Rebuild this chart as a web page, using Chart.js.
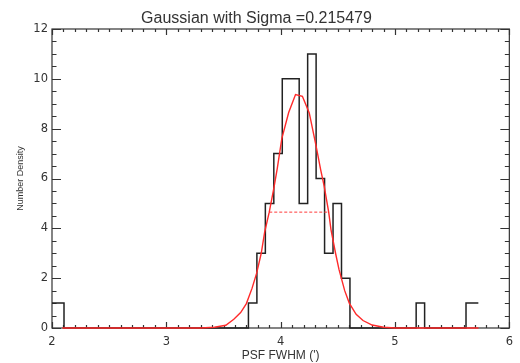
<!DOCTYPE html>
<html><head><meta charset="utf-8">
<script src="https://cdn.jsdelivr.net/npm/chart.js@4.4.0/dist/chart.umd.min.js"></script>
<style>html,body{margin:0;padding:0;background:#fff;}#wrap{width:520px;height:363px;}</style>
</head><body><div id="wrap"><canvas id="c" width="520" height="363"></canvas></div>
<script>
const titleText = 'Gaussian with Sigma =0.215479';
const xTitle = "PSF FWHM (')";
const yTitle = 'Number Density';
const xTickValues = [2, 3, 4, 5, 6];
const yTickValues = [0, 2, 4, 6, 8, 10, 12];
// histogram: counts[i] spans binEdges[i]..binEdges[i+1]
const binEdges = [2.00, 2.105, 3.718, 3.792, 3.866, 3.940, 4.014, 4.088, 4.162, 4.236, 4.310, 4.384, 4.458, 4.532, 4.606, 5.185, 5.259, 5.621, 5.729];
const binCounts = [1, 0, 1, 3, 5, 7, 10, 10, 5, 11, 6, 3, 5, 2, 0, 1, 0, 1];
// fitted gaussian curve
const fitX = [2.09, 3.30, 3.42, 3.52, 3.59, 3.65, 3.70, 3.75, 3.79, 3.83, 3.86, 3.90, 3.94, 3.97, 4.01, 4.07, 4.13, 4.19, 4.25, 4.31, 4.35, 4.38, 4.42, 4.44, 4.48, 4.51, 4.56, 4.60, 4.66, 4.72, 4.80, 4.90, 5.00, 5.73];
const fitY = [0.00, 0.00, 0.03, 0.11, 0.35, 0.62, 0.98, 1.60, 2.20, 3.00, 3.85, 4.65, 5.60, 6.40, 7.60, 8.65, 9.37, 9.30, 8.63, 7.30, 6.35, 5.70, 4.65, 3.95, 3.00, 2.35, 1.50, 1.00, 0.55, 0.30, 0.12, 0.03, 0.00, 0.00];
const halfMax = 4.65;
const fwhmRange = [3.90, 4.42];
const xMinorStep = 0.1;
const yMinorStep = 0.5;

const histPoints = [];
for (let i = 0; i < binCounts.length; i++) {
  histPoints.push({x: binEdges[i], y: binCounts[i]});
  histPoints.push({x: binEdges[i + 1], y: binCounts[i]});
}
const fitPoints = fitX.map((x, i) => ({x, y: fitY[i]}));
const halfPoints = fwhmRange.map(x => ({x, y: halfMax}));

const frame = {
  id: 'frame',
  beforeDatasetsDraw(chart) {
    const {ctx, chartArea: a, scales: {x, y}} = chart;
    ctx.save();
    ctx.strokeStyle = '#333';
    ctx.lineWidth = 1.2;
    ctx.strokeRect(a.left, a.top, a.right - a.left, a.bottom - a.top);
    ctx.beginPath();
    const nx = Math.round((x.max - x.min) / xMinorStep);
    for (let k = 0; k <= nx; k++) {
      const v = x.min + k * xMinorStep;
      const px = Math.round(x.getPixelForValue(v)) + 0.5;
      const len = (k % 10 === 0) ? 6 : 3;
      ctx.moveTo(px, a.bottom); ctx.lineTo(px, a.bottom - len);
      ctx.moveTo(px, a.top); ctx.lineTo(px, a.top + len);
    }
    const ny = Math.round((y.max - y.min) / yMinorStep);
    for (let k = 0; k <= ny; k++) {
      const v = y.min + k * yMinorStep;
      const py = Math.round(y.getPixelForValue(v)) + 0.5;
      const len = (k % 4 === 0) ? 9 : 4.5;
      ctx.moveTo(a.left, py); ctx.lineTo(a.left + len, py);
      ctx.moveTo(a.right, py); ctx.lineTo(a.right - len, py);
    }
    ctx.stroke();
    ctx.restore();
  }
};

new Chart(document.getElementById('c'), {
  type: 'line',
  data: {
    datasets: [
      {data: fitPoints, borderColor: '#ff2a2a', borderWidth: 1.4, pointRadius: 0, tension: 0, clip: false},
      {data: halfPoints, borderColor: '#ff3a3a', borderWidth: 1, borderDash: [3, 2], pointRadius: 0, clip: false},
      {data: histPoints, borderColor: '#222', borderWidth: 1.5, pointRadius: 0, tension: 0, clip: false}
    ]
  },
  options: {
    responsive: false,
    devicePixelRatio: 1,
    animation: false,
    layout: {padding: {left: 0, right: 7, top: 0, bottom: 0}},
    plugins: {
      legend: {display: false},
      tooltip: {enabled: false},
      title: {display: true, text: titleText, color: '#333',
        font: {family: 'Liberation Sans', size: 16, weight: 'normal', lineHeight: 1.2},
        padding: {top: 9.2, bottom: 0.6}}
    },
    scales: {
      x: {
        type: 'linear', min: 2, max: 6,
        afterBuildTicks: s => { s.ticks = xTickValues.map(v => ({value: v})); },
        afterFit: s => { s.height = 35; },
        grid: {display: false, drawTicks: false},
        border: {display: false},
        ticks: {color: '#333', padding: 7, maxRotation: 0, autoSkip: false,
          font: {family: 'DejaVu Sans', size: 11.5}},
        title: {display: true, text: xTitle, color: '#333',
          font: {family: 'Liberation Sans', size: 12, lineHeight: 1.2}, padding: {top: 0, bottom: 0}}
      },
      y: {
        type: 'linear', min: 0, max: 12,
        afterBuildTicks: s => { s.ticks = yTickValues.map(v => ({value: v})); },
        afterFit: s => { s.width = 52; },
        grid: {display: false, drawTicks: false},
        border: {display: false},
        ticks: {color: '#333', padding: 4, autoSkip: false,
          font: {family: 'DejaVu Sans', size: 11.5}},
        title: {display: true, text: yTitle, color: '#333',
          font: {family: 'Liberation Sans', size: 9, lineHeight: 1.2}, padding: {top: 15.5, bottom: 0}}
      }
    }
  },
  plugins: [frame]
});
</script></body></html>
